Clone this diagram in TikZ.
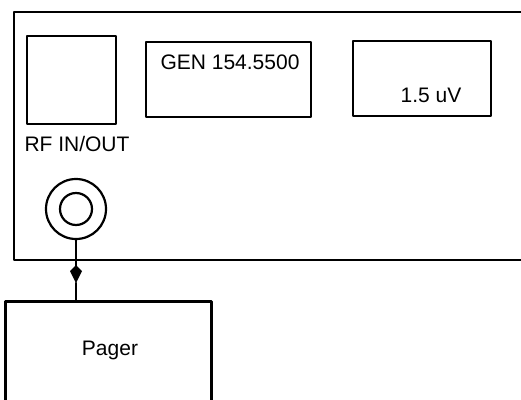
\documentclass[tikz,border=0pt]{standalone}
\usepackage{fontspec}
\setmainfont{Liberation Sans}
\usetikzlibrary{arrows.meta}

\begin{document}
\begin{tikzpicture}[line cap=round,line join=round,x=1pt,y=-1pt,line width=2.2pt,
  panelbox/.style={draw,inner sep=0pt},
  lbl/.style={font=\fontsize{21}{21}\selectfont,inner sep=0pt}]
\useasboundingbox (0,0) rectangle (521,399);
% front panel
\draw (530,12)--(14,12)--(14,260)--(530,260);
\node[panelbox,minimum width=89pt,minimum height=88pt] (rf) at (71.5,80) {};
\node[panelbox,minimum width=165pt,minimum height=75pt] (gen) at (228.5,79.5) {};
\node[panelbox,minimum width=138pt,minimum height=75pt] (lvl) at (422,78.5) {};
\node[lbl] (gentext) at (230,62) {GEN 154.5500};
\node[lbl] (lvltext) at (431,95) {1.5 uV};
\node[lbl] (rflabel) at (77,144) {RF IN/OUT};
%
\node[circle,draw,minimum size=60pt,inner sep=0pt] (jack) at (76,209) {};
\node[circle,draw,minimum size=32pt,inner sep=0pt] (pin) at (jack) {};
% pager
\draw[line width=3pt] (5,410)--(5,301)--(211,301)--(211,410);
\coordinate (pager) at (76,301);
\coordinate (tip) at (76,283);
\node[lbl] (pagertext) at (110,350) {Pager};
\draw[-{Kite[length=18pt,width=12pt,inset=6pt]}] (jack.south)--(tip);
\draw (tip)--(pager);
\end{tikzpicture}
\end{document}
